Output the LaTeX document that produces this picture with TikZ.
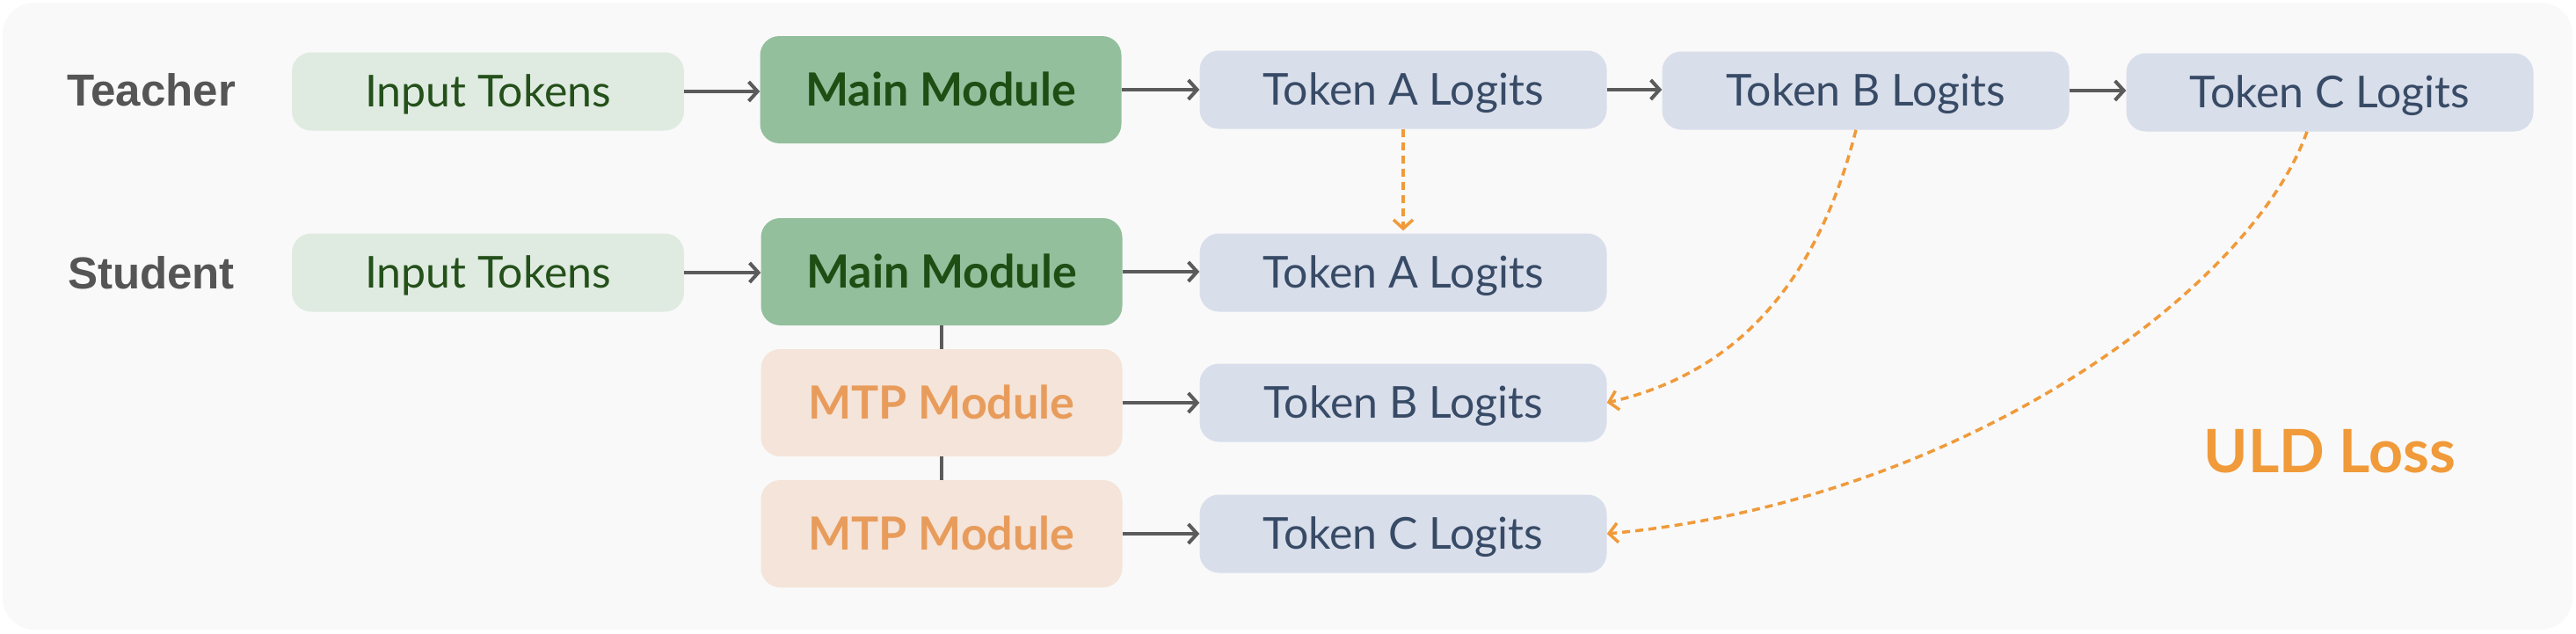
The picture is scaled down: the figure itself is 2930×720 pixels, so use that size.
\documentclass[tikz,border=0pt]{standalone}
\usepackage{fontspec}
\setmainfont{Lato}
\newfontfamily\labelfont{Liberation Sans}
\usetikzlibrary{arrows.meta,calc}
\definecolor{bgc}{HTML}{F9F9F9}
\definecolor{inFill}{HTML}{DFEBE1}
\definecolor{inText}{HTML}{24501A}
\definecolor{mainFill}{HTML}{93BF9C}
\definecolor{mainText}{HTML}{1F4E14}
\definecolor{mtpFill}{HTML}{F4E4D9}
\definecolor{mtpText}{HTML}{E89C5C}
\definecolor{logFill}{HTML}{D9DEEB}
\definecolor{logText}{HTML}{384B66}
\definecolor{labelc}{HTML}{555555}
\definecolor{arrowc}{HTML}{5B5B5B}
\definecolor{lossc}{HTML}{F09A3A}
\tikzset{
  box/.style={rounded corners=22pt, inner sep=0pt, align=center, text height=35pt, text depth=0pt, font=\fontsize{50}{60}\selectfont},
  inbox/.style={box, fill=inFill, text=inText, minimum width=446pt, minimum height=89pt},
  mainbox/.style={box, fill=mainFill, text=mainText, font=\bfseries\fontsize{52}{62}\selectfont, text height=37pt, minimum width=411pt, minimum height=122pt},
  mtpbox/.style={mainbox, fill=mtpFill, text=mtpText},
  logit/.style={box, fill=logFill, text=logText, minimum width=463pt, minimum height=89pt},
  rowlabel/.style={font=\labelfont\bfseries\fontsize{51}{60}\selectfont, text=labelc, anchor=base, inner sep=0pt},
  flow/.style={draw=arrowc, line width=4pt, -{Straight Barb[length=10pt,width=22pt]}},
  link/.style={draw=arrowc, line width=3.5pt},
  loss/.style={draw=lossc, line width=3.5pt, dash pattern=on 9pt off 6pt, -{Straight Barb[length=10pt,width=22pt]}}
}
\begin{document}
\begin{tikzpicture}[x=1pt,y=-1pt]
\useasboundingbox (0,0) rectangle (2930,720);
\fill[white] (0,0) rectangle (2930,720);
\fill[bgc, rounded corners=36pt] (3,3) rectangle (2926,716);

\node[rowlabel] (tLab) at (172,120) {Teacher};
\node[rowlabel] (sLab) at (172,328) {Student};

\node[inbox] (tIn) at (555,104) {Input Tokens};
\node[mainbox] (tMain) at (1070,102) {Main Module};
\node[logit] (tA) at (1596,102) {Token A Logits};
\node[logit] (tB) at (2122,103) {Token B Logits};
\node[logit] (tC) at (2650,105) {Token C Logits};

\node[inbox] (sIn) at (555,310) {Input Tokens};
\node[mainbox] (sMain) at (1071,309) {Main Module};
\node[logit] (sA) at (1596,310) {Token A Logits};
\node[mtpbox] (m1) at (1071,458) {MTP Module};
\node[logit] (sB) at (1596,458) {Token B Logits};
\node[mtpbox] (m2) at (1071,607) {MTP Module};
\node[logit] (sC) at (1596,607) {Token C Logits};

\node[font=\bfseries\fontsize{68}{80}\selectfont, text=lossc, anchor=base, inner sep=0pt] (uld) at (2650,537) {ULD Loss};

\draw[flow] (tIn.east) -- (tIn.east -| tMain.west);
\draw[flow] (tMain.east) -- (tMain.east -| tA.west);
\draw[flow] (tA.east) -- (tA.east -| tB.west);
\draw[flow] (tB.east) -- (tB.east -| tC.west);
\draw[flow] (sIn.east) -- (sIn.east -| sMain.west);
\draw[flow] (sMain.east) -- (sMain.east -| sA.west);
\draw[flow] (m1.east) -- (m1.east -| sB.west);
\draw[flow] (m2.east) -- (m2.east -| sC.west);
\draw[link] (sMain.south) -- (m1.north);
\draw[link] (m1.south) -- (m2.north);

\draw[loss, shorten >=3pt] (tA.south) -- (sA.north);
\coordinate (bStart) at ([xshift=-11pt]tB.south);
\coordinate (cStart) at ([xshift=-26pt]tC.south);
\draw[loss] (bStart) .. controls (2060,350) and (1950,430) .. (sB.east);
\draw[loss] (cStart) .. controls (2560,330) and (2230,570) .. (sC.east);
\end{tikzpicture}
\end{document}
